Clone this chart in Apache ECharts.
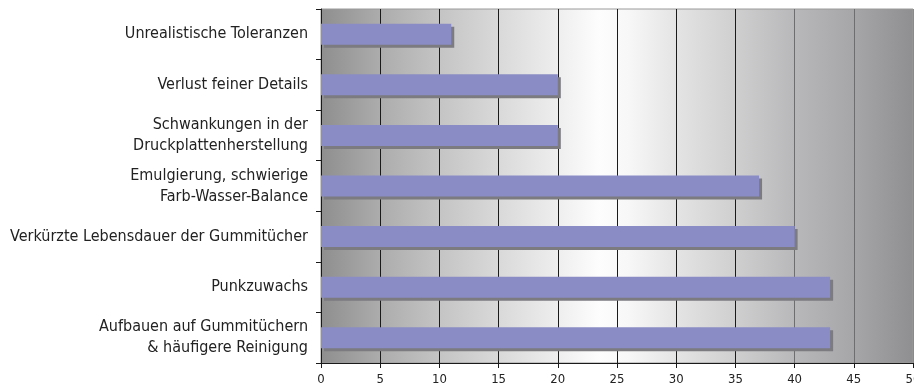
<!DOCTYPE html>
<html>
<head>
<meta charset="utf-8">
<script src="https://cdn.jsdelivr.net/npm/echarts@6/dist/echarts.min.js"></script>
<style>
  html, body { margin: 0; padding: 0; background: #ffffff; }
  #chart { width: 914px; height: 389px; }
</style>
</head>
<body>
<div id="chart"></div>
<script>
// Problem categories, top to bottom
var categories = [
  'Unrealistische Toleranzen',
  'Verlust feiner Details',
  'Schwankungen in der\nDruckplattenherstellung',
  'Emulgierung, schwierige\nFarb-Wasser-Balance',
  'Verkürzte Lebensdauer der Gummitücher',
  'Punkzuwachs',
  'Aufbauen auf Gummitüchern\n& häufigere Reinigung'
];
// Share of mentions per category
var values = [11, 20, 20, 37, 40, 43, 43];
// Value axis range and step
var axisMin = 0;
var axisMax = 50;
var axisStep = 5;

var FONT = '"Liberation Sans Narrow", "DejaVu Sans Condensed", "Liberation Sans", sans-serif';

var chart = echarts.init(document.getElementById('chart'), null, { renderer: 'canvas' });

chart.setOption({
  animation: false,
  grid: {
    left: 321, right: 1, top: 9, bottom: 26,
    containLabel: false,
    outerBoundsMode: 'none',
    show: true,
    borderColor: '#9a9a9a',
    borderWidth: 1,
    // cylinder-like shading: dark at both edges, bright near the middle
    backgroundColor: new echarts.graphic.LinearGradient(0, 0, 1, 0, [
      { offset: 0.00, color: '#8e8e8e' },
      { offset: 0.10, color: '#acacac' },
      { offset: 0.20, color: '#c4c4c4' },
      { offset: 0.30, color: '#d9d9d9' },
      { offset: 0.40, color: '#eeeeee' },
      { offset: 0.47, color: '#fdfdfd' },
      { offset: 0.52, color: '#f7f7f7' },
      { offset: 0.60, color: '#e4e4e5' },
      { offset: 0.70, color: '#cfcfd0' },
      { offset: 0.80, color: '#b8b8ba' },
      { offset: 0.90, color: '#a6a6a8' },
      { offset: 1.00, color: '#8f8f91' }
    ])
  },
  xAxis: {
    type: 'value',
    min: axisMin,
    max: axisMax,
    interval: axisStep,
    axisLine: { show: true, lineStyle: { color: '#1a1a1a', width: 1 } },
    axisTick: { show: true, length: 5, lineStyle: { color: '#1a1a1a' } },
    axisLabel: {
      margin: 10,
      color: '#222222',
      fontFamily: FONT,
      fontSize: 13
    },
    splitLine: {
      show: true,
      lineStyle: {
        color: ['#1a1a1a', '#1a1a1a', '#1a1a1a', '#1a1a1a', '#1a1a1a', '#1a1a1a',
                '#1a1a1a', '#1a1a1a', '#6e6e70', '#6e6e70', '#8a8a8c'],
        width: 1
      }
    }
  },
  yAxis: {
    type: 'category',
    data: categories,
    inverse: true,
    axisLine: { show: true, lineStyle: { color: '#1a1a1a', width: 1 } },
    axisTick: { show: true, length: 5, lineStyle: { color: '#1a1a1a' } },
    axisLabel: {
      margin: 13,
      color: '#222222',
      fontFamily: FONT,
      fontSize: 16,
      lineHeight: 21,
      align: 'right'
    },
    splitLine: { show: false }
  },
  series: [{
    type: 'bar',
    data: values,
    barWidth: 21,
    itemStyle: {
      color: '#8a8cc5',
      shadowColor: '#7b7b80',
      shadowBlur: 0,
      shadowOffsetX: 3,
      shadowOffsetY: 3
    }
  }]
});
</script>
</body>
</html>
